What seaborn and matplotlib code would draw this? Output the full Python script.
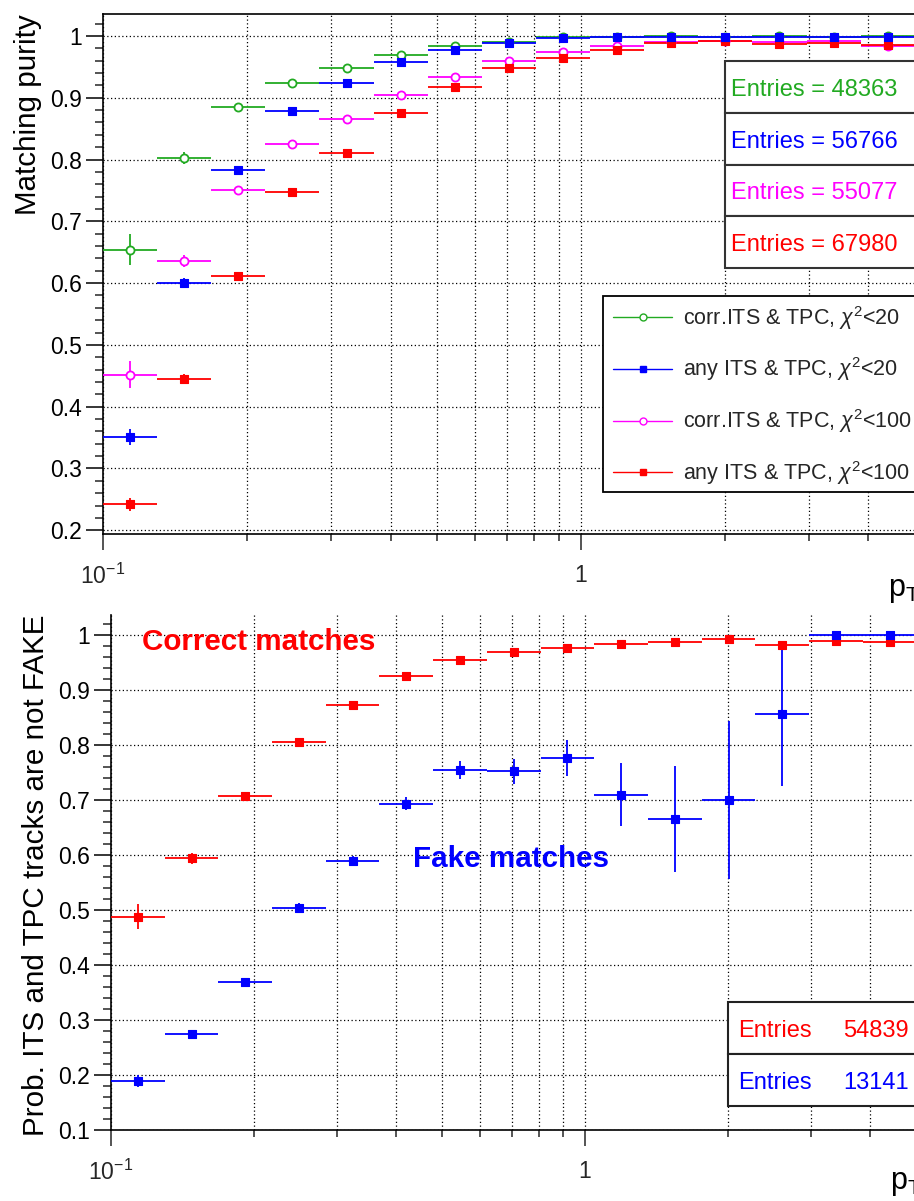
import numpy as np
import pandas as pd
import matplotlib
matplotlib.use("Agg")
import matplotlib.pyplot as plt
import seaborn as sns
from matplotlib.lines import Line2D
from matplotlib.patches import Rectangle
from matplotlib.ticker import (FixedLocator, FixedFormatter, NullFormatter,
                               MultipleLocator, FuncFormatter)

# ---------------------------------------------------------------- data
# transverse-momentum bin edges (GeV/c), logarithmic binning
pt_edges = [0.1, 0.1298, 0.1685, 0.2187, 0.2839, 0.3685, 0.4783, 0.6209,
            0.8059, 1.046, 1.358, 1.763, 2.288, 2.970, 3.855, 5.004]

# matching purity per pT bin
purity_corr_chi20 = [0.654, 0.803, 0.885, 0.924, 0.949, 0.969, 0.984, 0.990,
                     0.998, 0.999, 1.000, 0.999, 1.000, 0.999, 1.000]
purity_corr_chi20_err = [0.025, 0.010, 0.006, 0.005, 0.004, 0.003, 0.003, 0.002,
                         0.002, 0.002, 0.002, 0.002, 0.002, 0.002, 0.002]
purity_any_chi20 = [0.351, 0.601, 0.783, 0.878, 0.924, 0.958, 0.978, 0.988,
                    0.997, 0.998, 0.999, 0.999, 0.999, 0.998, 0.999]
purity_any_chi20_err = [0.013, 0.008, 0.007, 0.006, 0.005, 0.004, 0.003, 0.003,
                        0.002, 0.002, 0.002, 0.002, 0.002, 0.002, 0.002]
purity_corr_chi100 = [0.452, 0.636, 0.751, 0.825, 0.865, 0.904, 0.933, 0.960,
                      0.974, 0.984, 0.990, 0.992, 0.990, 0.992, 0.984]
purity_corr_chi100_err = [0.022, 0.010, 0.006, 0.005, 0.004, 0.003, 0.003, 0.002,
                          0.002, 0.002, 0.002, 0.002, 0.002, 0.002, 0.002]
purity_any_chi100 = [0.242, 0.445, 0.612, 0.747, 0.811, 0.875, 0.917, 0.949,
                     0.965, 0.978, 0.988, 0.992, 0.987, 0.989, 0.985]
purity_any_chi100_err = [0.010, 0.008, 0.006, 0.005, 0.005, 0.004, 0.003, 0.003,
                         0.002, 0.002, 0.002, 0.002, 0.002, 0.002, 0.002]

purity_labels = ["corr.ITS & TPC, $\\chi^{2}$<20", "any ITS & TPC, $\\chi^{2}$<20",
                 "corr.ITS & TPC, $\\chi^{2}$<100", "any ITS & TPC, $\\chi^{2}$<100"]
purity_entries = [48363, 56766, 55077, 67980]

# probability that ITS-TPC tracks are not fake
notfake_correct = [0.488, 0.594, 0.707, 0.806, 0.873, 0.925, 0.955, 0.970,
                   0.977, 0.984, 0.987, 0.992, 0.982, 0.989, 0.987]
notfake_correct_err = [0.023, 0.010, 0.006, 0.006, 0.005, 0.004, 0.004, 0.003,
                       0.003, 0.003, 0.003, 0.003, 0.004, 0.004, 0.004]
notfake_fake = [0.189, 0.275, 0.369, 0.504, 0.589, 0.693, 0.755, 0.752,
                0.777, 0.710, 0.666, 0.700, 0.856, 1.000, 1.000]
notfake_fake_err = [0.011, 0.007, 0.008, 0.009, 0.009, 0.012, 0.016, 0.022,
                    0.033, 0.058, 0.096, 0.144, 0.131, 0.000, 0.000]
notfake_entries = [54839, 13141]

# ---------------------------------------------------------------- style
GREEN, BLUE, MAGENTA, RED = "#22aa22", "#0000ff", "#ff00ff", "#ff0000"

sns.set_theme(style="white")
plt.rcParams["font.family"] = ["Liberation Sans", "DejaVu Sans"]
plt.rcParams["mathtext.fontset"] = "custom"
plt.rcParams["mathtext.rm"] = "Liberation Sans"
plt.rcParams["mathtext.it"] = "Liberation Sans:italic"
plt.rcParams["mathtext.bf"] = "Liberation Sans:bold"

W, H = 914, 1201
fig = plt.figure(figsize=(W / 100, H / 100), dpi=100)
fig.patch.set_facecolor("white")


def fx(px):
    return px / W


def fy(py):
    return 1 - py / H


edges = np.array(pt_edges)
centers = np.sqrt(edges[:-1] * edges[1:])
xerr = [centers - edges[:-1], edges[1:] - centers]

GRID = dict(color="black", linestyle=(0, (1, 2)), linewidth=0.9)


def style_axes(ax, ymin, ymax, xmax, top_spine):
    ax.set_xscale("log")
    ax.set_xlim(0.1, xmax)
    ax.set_ylim(ymin, ymax)
    ax.set_facecolor("white")
    for side in ("left", "bottom", "top"):
        ax.spines[side].set_color("black")
        ax.spines[side].set_linewidth(1.2)
    ax.spines["right"].set_visible(False)
    ax.spines["top"].set_visible(top_spine)

    ax.xaxis.set_major_locator(FixedLocator([0.1, 1.0]))
    ax.xaxis.set_major_formatter(FixedFormatter(["$10^{-1}$", "1"]))
    ax.xaxis.set_minor_locator(FixedLocator([0.2, 0.3, 0.4, 0.5, 0.6, 0.7, 0.8,
                                             0.9, 2, 3, 4, 5]))
    ax.xaxis.set_minor_formatter(NullFormatter())
    ax.yaxis.set_major_locator(MultipleLocator(0.1))
    ax.yaxis.set_minor_locator(MultipleLocator(0.02))
    ax.yaxis.set_major_formatter(FuncFormatter(lambda v, p: f"{v:g}"))

    ax.tick_params(axis="y", which="major", direction="out", length=12,
                   width=1.1, labelsize=16.5, pad=3, left=True, colors="black")
    ax.tick_params(axis="y", which="minor", direction="out", length=6,
                   width=1.1, left=True)
    ax.tick_params(axis="x", which="major", direction="out", length=11.5,
                   width=1.1, labelsize=16.5, pad=10, bottom=True)
    ax.tick_params(axis="x", which="minor", direction="out", length=5.3,
                   width=1.1, bottom=True)
    ax.grid(False)
    ax.grid(True, which="major", axis="y", **GRID)
    ax.grid(True, which="both", axis="x", **GRID)
    ax.set_axisbelow(True)
    ax.set_xlabel("")
    ax.set_ylabel("")


def draw_series(ax, values, errors, color, filled, z):
    df = pd.DataFrame({"pt": centers, "value": values})
    ax.errorbar(centers, values, xerr=xerr, yerr=errors, fmt="none",
                ecolor=color, elinewidth=1.3, capsize=0, zorder=z)
    if filled:
        sns.scatterplot(data=df, x="pt", y="value", ax=ax, marker="s", s=28,
                        color=color, edgecolor=color, linewidth=0.8,
                        zorder=z + 0.5, legend=False)
    else:
        sns.scatterplot(data=df, x="pt", y="value", ax=ax, marker="o", s=34,
                        color="white", edgecolor=color, linewidth=1.3,
                        zorder=z + 0.5, legend=False)


# ---------------------------------------------------------------- top panel
ax1 = fig.add_axes([fx(103), fy(534.3), (940 - 103) / W, (534.3 - 14) / H])
draw_series(ax1, purity_corr_chi20, purity_corr_chi20_err, GREEN, False, 3)
draw_series(ax1, purity_corr_chi100, purity_corr_chi100_err, MAGENTA, False, 3.1)
draw_series(ax1, purity_any_chi100, purity_any_chi100_err, RED, True, 3.2)
draw_series(ax1, purity_any_chi20, purity_any_chi20_err, BLUE, True, 3.3)
style_axes(ax1, 0.1935, 1.0356, 10 ** (-1 + (940 - 103) / 477.7), True)

fig.text(fx(42), fy(14), "Matching purity", rotation=90, rotation_mode="anchor",
         ha="right", va="bottom", fontsize=21.3, color="black")
fig.text(fx(888), fy(596), "p$_{\\mathrm{T}}$ (GeV/c)", ha="left",
         va="baseline", fontsize=22, color="black")

# legend box
ax1.add_patch(Rectangle((fx(603), fy(491.7)), (940 - 603) / W, (491.7 - 295.7) / H,
                        transform=fig.transFigure, clip_on=False, facecolor="white",
                        edgecolor="black", linewidth=1.3, zorder=6))
handles = [
    Line2D([0], [0], color=GREEN, lw=1.0, marker="o", ms=5, mfc="white", mec=GREEN, mew=1.0),
    Line2D([0], [0], color=BLUE, lw=1.0, marker="s", ms=4.2, mfc=BLUE, mec=BLUE),
    Line2D([0], [0], color=MAGENTA, lw=1.0, marker="o", ms=5, mfc="white", mec=MAGENTA, mew=1.0),
    Line2D([0], [0], color=RED, lw=1.0, marker="s", ms=4.2, mfc=RED, mec=RED),
]
leg = ax1.legend(handles, purity_labels, loc="upper left",
                 bbox_to_anchor=(fx(613), fy(304)), bbox_transform=fig.transFigure,
                 frameon=False, fontsize=15.5, handlelength=2.75, handletextpad=0.5,
                 labelspacing=1.1, borderpad=0, borderaxespad=0)
leg.set_zorder(7)

# statistics boxes
stat_colors = [GREEN, BLUE, MAGENTA, RED]
box_top, row_h = 61, 51.8
for i, (n, c) in enumerate(zip(purity_entries, stat_colors)):
    y0 = box_top + i * row_h
    ax1.add_patch(Rectangle((fx(725), fy(y0 + row_h)), (940 - 725) / W, row_h / H,
                            transform=fig.transFigure, clip_on=False,
                            facecolor="white", edgecolor="#333333", linewidth=1.5,
                            zorder=6))
    ax1.text(fx(731), fy(y0 + 34.7), f"Entries = {n}", transform=fig.transFigure,
             ha="left", va="baseline", fontsize=17, color=c, zorder=7)

# ---------------------------------------------------------------- bottom panel
ax2 = fig.add_axes([fx(111), fy(1130), (940 - 111) / W, (1130 - 615) / H])
draw_series(ax2, notfake_correct, notfake_correct_err, RED, True, 3)
draw_series(ax2, notfake_fake, notfake_fake_err, BLUE, True, 3.2)
style_axes(ax2, 0.1, 1.0364, 10 ** (-1 + (940 - 111) / 474), False)

fig.text(fx(50), fy(615), "Prob. ITS and TPC tracks are not FAKE", rotation=90,
         rotation_mode="anchor", ha="right", va="bottom", fontsize=21.3,
         color="black")
fig.text(fx(890), fy(1189), "p$_{\\mathrm{T}}$ (GeV/c)", ha="left",
         va="baseline", fontsize=22, color="black")

fig.text(fx(142), fy(650), "Correct matches", ha="left", va="baseline",
         fontsize=21.3, fontweight="bold", color=RED)
fig.text(fx(413), fy(867), "Fake matches", ha="left", va="baseline",
         fontsize=21.3, fontweight="bold", color=BLUE)

box_top2, row_h2 = 1002.3, 51.7
for i, (n, c) in enumerate(zip(notfake_entries, [RED, BLUE])):
    y0 = box_top2 + i * row_h2
    ax2.add_patch(Rectangle((fx(728), fy(y0 + row_h2)), (940 - 728) / W, row_h2 / H,
                            transform=fig.transFigure, clip_on=False,
                            facecolor="white", edgecolor="#222222", linewidth=1.5,
                            zorder=6))
    ax2.text(fx(738), fy(y0 + 35), "Entries", transform=fig.transFigure,
             ha="left", va="baseline", fontsize=17, color=c, zorder=7)
    ax2.text(fx(909), fy(y0 + 35), f"{n}", transform=fig.transFigure,
             ha="right", va="baseline", fontsize=17, color=c, zorder=7)

fig.savefig("out.png", dpi=100, facecolor="white")
